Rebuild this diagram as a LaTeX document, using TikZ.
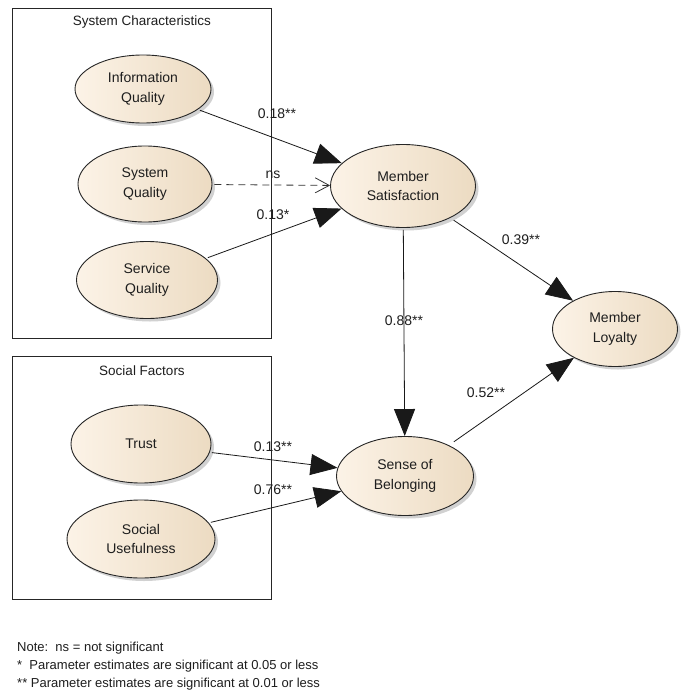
\documentclass[tikz,border=0pt]{standalone}
\usepackage{fontspec}
\setmainfont{Liberation Sans}
\usetikzlibrary{shapes.geometric,arrows.meta,shadows}
\definecolor{ecream}{RGB}{252,243,231}
\definecolor{ecreammid}{RGB}{248,237,221}
\definecolor{ecreamdark}{RGB}{236,219,194}
\definecolor{txt}{RGB}{30,30,30}
\begin{document}
\begin{tikzpicture}[x=1pt,y=-1pt,
  latent/.style={ellipse, draw=black!85, line width=0.9pt, left color=ecream, middle color=ecreammid, right color=ecreamdark,
    drop shadow={shadow xshift=3pt, shadow yshift=-3pt, fill=black!40, opacity=0.45},
    align=center, font=\fontsize{14}{19.5}\selectfont, text=txt, inner sep=0pt},
  grp/.style={draw=black!85, line width=0.8pt},
  ttl/.style={font=\fontsize{13.5}{16}\selectfont, text=txt},
  lbl/.style={font=\fontsize{14}{16}\selectfont, text=txt, inner sep=1pt},
  arr/.style={-{Triangle[length=27pt,width=21pt]}, line width=0.8pt, draw=black!90, shorten <=2pt},
  dasharr/.style={-{Straight Barb[length=14pt,width=15pt,line width=0.8pt]}, line width=0.8pt, draw=black!80, dash pattern=on 7pt off 5pt, shorten <=2pt},
  note/.style={font=\fontsize{13}{16}\selectfont, text=txt, anchor=west, inner sep=0pt}]
\useasboundingbox (0,0) rectangle (680,693);
\fill[white] (0,0) rectangle (680,693);

% group boxes
\draw[grp] (12,8) rectangle (271,338);
\node[ttl] (t1) at (142,22) {System Characteristics};
\draw[grp] (12,356) rectangle (271,599);
\node[ttl] (t2) at (142,371) {Social Factors};

% latent variables
\node[latent, minimum width=136pt, minimum height=68pt] (iq) at (143,89) {Information\\Quality};
\node[latent, minimum width=134pt, minimum height=76pt] (sq) at (145,184) {System\\Quality};
\node[latent, minimum width=141pt, minimum height=77pt] (svq) at (147,280) {Service\\Quality};
\node[latent, minimum width=145pt, minimum height=83pt] (ms) at (403,186) {Member\\Satisfaction};
\node[latent, minimum width=125pt, minimum height=75pt] (ml) at (615,329) {Member\\Loyalty};
\node[latent, minimum width=137pt, minimum height=79pt] (sb) at (405,476) {Sense of\\Belonging};
\node[latent, minimum width=140pt, minimum height=78pt] (tr) at (141,444) {Trust};
\node[latent, minimum width=148pt, minimum height=78pt] (su) at (141,539) {Social\\Usefulness};

% paths
\draw[arr] (iq) -- (ms);
\draw[dasharr] (sq) -- (ms);
\draw[arr] (svq) -- (ms);
\draw[arr] (ms) -- (sb);
\draw[arr, shorten <=4pt] (ms) -- (ml);
\draw[arr, shorten <=6pt] (sb) -- (ml);
\draw[arr] (tr) -- (sb);
\draw[arr] (su) -- (sb);

% path labels
\node[lbl] (l1) at (277,114) {0.18**};
\node[lbl] (l2) at (273,175) {ns};
\node[lbl] (l3) at (273,215) {0.13*};
\node[lbl] (l4) at (404,321) {0.88**};
\node[lbl] (l5) at (521,240) {0.39**};
\node[lbl] (l6) at (486,393) {0.52**};
\node[lbl] (l7) at (273,447) {0.13**};
\node[lbl] (l8) at (273,490) {0.76**};

% note
\node[note] (n1) at (17,648) {Note:\ \ ns = not significant};
\node[note] (n2) at (17,666) {*\ \ Parameter estimates are significant at 0.05 or less};
\node[note] (n3) at (17,684) {** Parameter estimates are significant at 0.01 or less};
\end{tikzpicture}
\end{document}
